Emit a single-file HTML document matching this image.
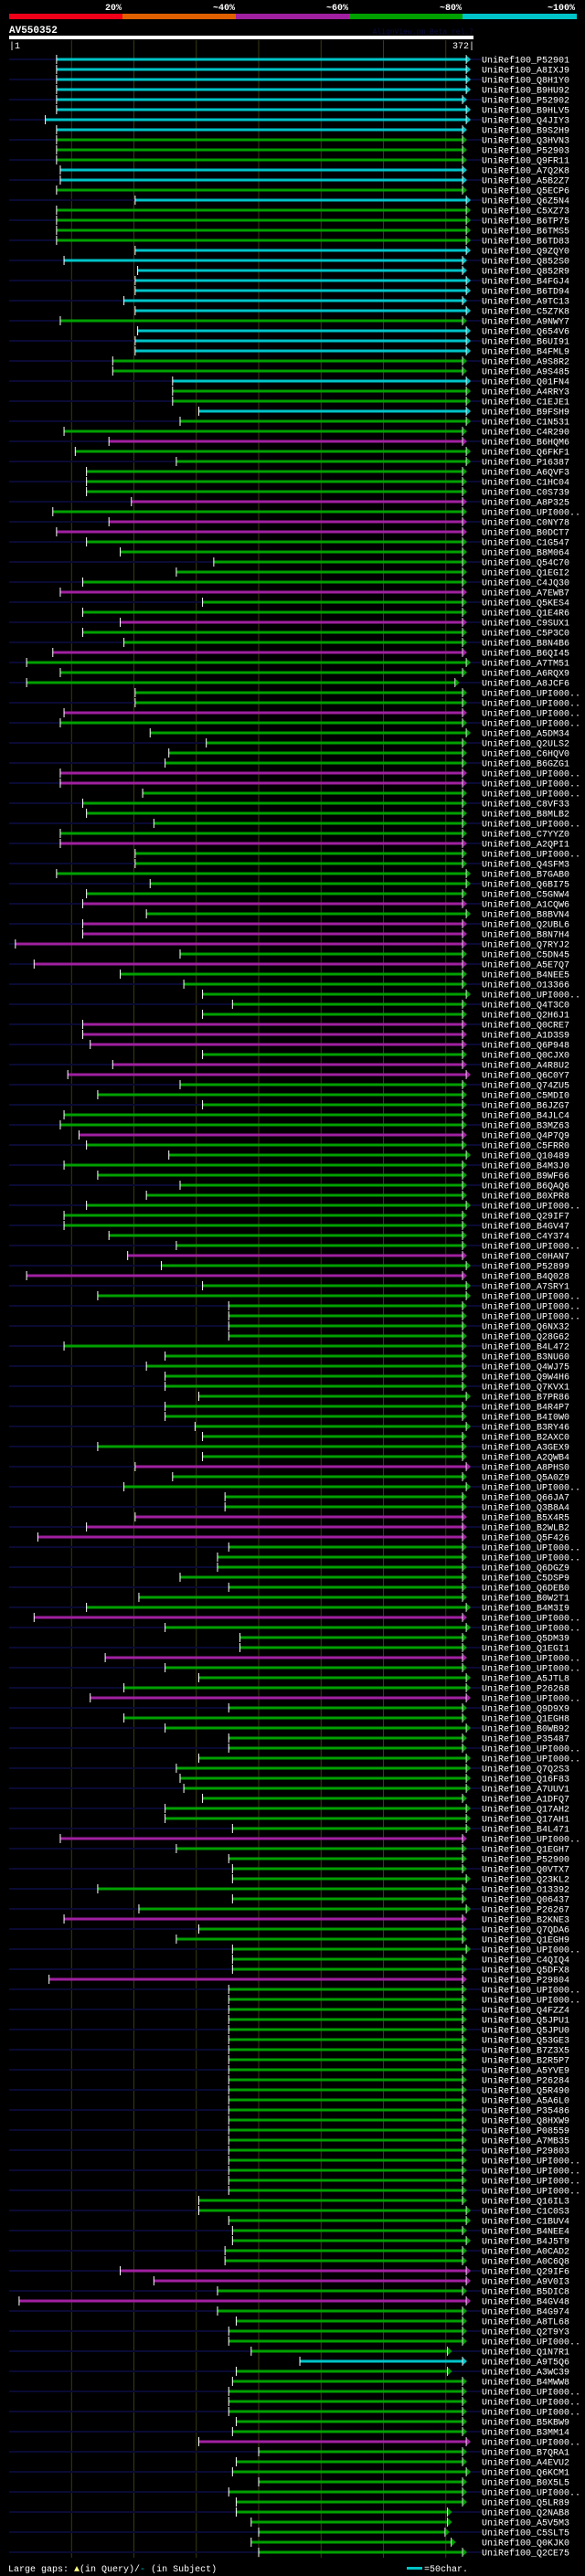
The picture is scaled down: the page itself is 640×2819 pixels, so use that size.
<!DOCTYPE html>
<html><head><meta charset="utf-8"><title>AlignView AV550352</title>
<style>
html,body{margin:0;padding:0;background:#000;}
svg{display:block;}
text{font-family:"Liberation Mono","DejaVu Sans Mono",monospace;}
</style></head>
<body>
<svg id="chart" xmlns="http://www.w3.org/2000/svg" width="640" height="2819" viewBox="0 0 640 2819">
<rect x="0" y="0" width="640" height="2819" fill="#000"/>
<g>
<rect x="10" y="15" width="124" height="6" fill="#f00018"/>
<rect x="134" y="15" width="124" height="6" fill="#e06000"/>
<rect x="258" y="15" width="124" height="6" fill="#a020a0"/>
<rect x="382" y="15" width="124" height="6" fill="#00a000"/>
<rect x="506" y="15" width="125" height="6" fill="#00c4c8"/>
<text x="133" y="11" fill="#fff" font-size="10" font-weight="bold" text-anchor="end">20%</text>
<text x="257" y="11" fill="#fff" font-size="10" font-weight="bold" text-anchor="end">~40%</text>
<text x="381" y="11" fill="#fff" font-size="10" font-weight="bold" text-anchor="end">~60%</text>
<text x="505" y="11" fill="#fff" font-size="10" font-weight="bold" text-anchor="end">~80%</text>
<text x="629" y="11" fill="#fff" font-size="10" font-weight="bold" text-anchor="end">~100%</text>
</g>
<text x="10" y="36" fill="#fff" font-size="11" font-weight="bold">AV550352</text>
<text x="518" y="37" fill="#0c0c40" font-size="8" text-anchor="end">AlignView.pm Beta rel.7</text>
<rect x="10" y="39" width="508" height="4" fill="#fff"/>
<text x="10" y="53" fill="#fff" font-size="10">|1</text>
<text x="519" y="53" fill="#fff" font-size="10" text-anchor="end">372|</text>
<g id="grid"></g>
<g id="rows"></g>
<g>
<text x="9" y="2814" fill="#fff" font-size="10">Large gaps: <tspan fill="#ffff80">▲</tspan>(in Query)/<tspan fill="#00c4c8">-</tspan> (in Subject)</text>
<rect x="445" y="2809" width="17" height="3" fill="#00c4c8"/>
<text x="464" y="2814" fill="#fff" font-size="10">=50char.</text>
</g>
</svg>
<script>
var queryLength = 372;
var gridTicks = [51, 101, 151, 201, 251, 301, 351];
var hitNames = ("P52901,A8IXJ9,Q8H1Y0,B9HU92,P52902,B9HLV5,Q4JIY3,B9S2H9,Q3HVN3,P52903,Q9FR11,A7Q2K8,A5B2Z7,Q5ECP6,Q6Z5N4,C5XZ73,B6TP75,B6TMS5,B6TD83,Q9ZQY0,Q852S0,Q852R9,B4FGJ4,B6TD94,A9TC13,C5Z7K8,A9NWY7," +
"Q654V6,B6UI91,B4FML9,A9S8R2,A9S485,Q01FN4,A4RRY3,C1EJE1,B9FSH9,C1N531,C4R290,B6HQM6,Q6FKF1,P16387,A6QVF3,C1HC04,C0S739,A8P325,U,C0NY78,B0DCT7,C1G547,B8M064,Q54C70,Q1EGI2,C4JQ30,A7EWB7,Q5KES4," +
"Q1E4R6,C9SUX1,C5P3C0,B8N4B6,B6QI45,A7TM51,A6RQX9,A8JCF6,U,U,U,U,A5DM34,Q2ULS2,C6HQV0,B6GZG1,U,U,U,C8VF33,B8MLB2,U,C7YYZ0,A2QPI1,U,Q4SFM3,B7GAB0," +
"Q6BI75,C5GNW4,A1CQW6,B8BVN4,Q2UBL6,B8N7H4,Q7RYJ2,C5DN45,A5E7Q7,B4NEE5,O13366,U,Q4T3C0,Q2H6J1,Q0CRE7,A1D3S9,Q6P948,Q0CJX0,A4R8U2,Q6C0Y7,Q74ZU5,C5MDI0,B6JZG7,B4JLC4,B3MZ63,Q4P7Q9,C5FRR0," +
"Q10489,B4M3J0,B9WF66,B6QAQ6,B0XPR8,U,Q29IF7,B4GV47,C4Y374,U,C0HAN7,P52899,B4Q028,A7SRY1,U,U,U,Q6NX32,Q28G62,B4L472,B3NU60,Q4WJ75,Q9W4H6,Q7KVX1,B7PR86,B4R4P7,B4I0W0," +
"B3RY46,B2AXC0,A3GEX9,A2QWB4,A8PHS0,Q5A0Z9,U,Q66JA7,Q3B8A4,B5X4R5,B2WLB2,Q5F426,U,U,Q6DGZ9,C5DSP9,Q6DEB0,B0W2T1,B4M3I9,U,U,Q5DM39,Q1EGI1,U,U,A5JTL8,P26268,U," +
"Q9D9X9,Q1EGH8,B0WB92,P35487,U,U,Q7Q2S3,Q16F83,A7UUV1,A1DFQ7,Q17AH2,Q17AH1,B4L471,U,Q1EGH7,P52900,Q0VTX7,Q23KL2,O13392,Q06437,P26267,B2KNE3,Q7QDA6,Q1EGH9,U,C4QIQ4,Q5DFX8," +
"P29804,U,U,Q4FZZ4,Q5JPU1,Q5JPU0,Q53GE3,B7Z3X5,B2R5P7,A5YVE9,P26284,Q5R490,A5A6L0,P35486,Q8HXW9,P08559,A7MB35,P29803,U,U,U,U," +
"Q16IL3,C1C0S3,C1BUV4,B4NEE4,B4J5T9," +
"A0CAD2,A0C6Q8,Q29IF6,A9V0I3,B5DIC8,B4GV48,B4G974,A8TL68,Q2T9Y3,U,Q1N7R1,A9T5Q6,A3WC39,B4MWW8,U,U,U,B5KBW9,B3MM14,U,B7QRA1,A4EVU2,Q6KCM1,B0X5L5,U,Q5LR89," +
"Q2NAB8,A5V5M3,C5SLT5,Q0KJK0,Q2CE75").split(",");
var identityClass = ("ccccccccgggccgcggggcccccccg" +
"cccggcggcggmgggggmgmmgggggmg" +
"gmggmgggggmgggggmmgggggmggg" +
"ggmgmmmgmgggggmmmgmmgggggmg" +
"ggggggggggmgmgggggggggggggg" +
"ggggmggggmmmgggggggmgggmgggm" +
"gggggggggggggmgggggggmggggg" +
"m" + "gggggggggggggggggggggggggg" +
"ggmmgmgggggcgggggggmgggggg" +
"ggggg").split("");
var queryStart = [39,39,39,39,39,39,30,39,39,39,39,42,42,39,102,39,39,39,39,102,45,104,102,102,93,102,42,
104,102,102,84,84,132,132,132,153,138,45,81,54,135,63,63,63,99,36,81,39,63,90,165,135,60,42,156,
60,90,60,93,36,15,42,15,102,102,45,42,114,159,129,126,42,42,108,60,63,117,42,42,102,102,39,
114,63,60,111,60,60,6,138,21,90,141,156,180,156,60,60,66,156,84,48,138,72,156,45,42,57,63,
129,45,72,138,111,63,45,45,81,135,96,123,15,156,72,177,177,177,177,45,126,111,126,126,153,126,126,
150,156,72,156,102,132,93,174,174,102,63,24,177,168,168,138,177,105,63,21,126,186,186,78,126,153,93,66,
177,93,126,177,177,153,135,138,141,156,126,126,180,42,135,177,180,180,72,180,105,45,153,135,180,180,180,
33,177,177,177,177,177,177,177,177,177,177,177,177,177,177,177,177,177,177,177,177,177,
153,153,177,180,180,
174,174,90,117,168,9,168,183,177,177,195,234,183,180,177,177,177,183,180,153,201,183,180,201,177,183,
183,195,201,195,201];
var queryEnd = [371,371,371,371,368,371,371,368,368,368,368,368,368,368,371,371,371,371,371,371,368,368,371,371,368,371,368,
371,371,371,368,368,371,371,371,371,371,368,368,371,371,368,368,368,368,368,368,368,368,368,368,368,368,368,368,
368,368,368,368,368,371,368,362,368,368,368,368,371,368,368,368,368,368,368,368,368,368,368,368,368,368,371,
371,368,368,371,368,368,368,368,368,368,368,371,368,368,368,368,368,368,368,371,368,368,368,368,368,368,368,
371,368,368,368,368,371,368,368,368,368,368,371,368,371,371,368,368,368,368,368,368,368,368,368,371,368,368,
371,368,368,368,371,368,371,368,368,368,368,368,368,368,368,368,368,368,371,368,371,368,368,368,368,371,371,371,
368,368,371,368,368,371,371,371,371,368,371,371,371,368,368,368,368,371,368,368,371,368,368,368,371,368,368,
368,368,368,368,368,368,368,368,368,368,368,368,368,368,368,368,368,368,368,368,368,368,
368,371,371,368,371,
368,368,371,371,368,371,368,368,368,368,356,368,356,368,368,368,368,368,368,371,368,368,371,368,368,368,
356,356,354,359,368];

var NS = "http://www.w3.org/2000/svg";
var X0 = 10, PX = 1.365, ROW0 = 65, PITCH = 11;
var COLORS = {c: "#00c4c8", g: "#00a000", m: "#a020a0"};
function xScale(pos) { return X0 + (pos - 1) * PX; }
function yScale(i) { return ROW0 + i * PITCH; }
function mk(tag, attrs) {
  var e = document.createElementNS(NS, tag);
  for (var k in attrs) e.setAttribute(k, attrs[k]);
  return e;
}
var grid = document.getElementById("grid");
var lastY = yScale(hitNames.length - 1) + 6;
gridTicks.forEach(function (t) {
  var l = mk("line", {x1: xScale(t), x2: xScale(t), y1: 44, y2: lastY, stroke: "#3a3a12", "stroke-width": 1});
  
  
  grid.appendChild(l);
});
var rows = document.getElementById("rows");
for (var i = 0; i < hitNames.length; i++) {
  var y = yScale(i);
  var g = mk("g", {});
  
  
  if (i % 2 === 0) {
    var s = mk("rect", {x: 10, y: y - 1, width: 517, height: 2, fill: "#0a0a34"});
    
    
    g.appendChild(s);
  }
  var col = COLORS[identityClass[i]] || COLORS.g;
  var xs = xScale(queryStart[i]), xe = xScale(queryEnd[i]);
  var bar = mk("rect", {x: xs, y: y - 1.5, width: Math.max(0, xe - 5 - xs), height: 3, fill: col});
  
  
  g.appendChild(bar);
  var tri = mk("polygon", {points: (xe - 5) + "," + (y - 4.5) + " " + xe + "," + y + " " + (xe - 5) + "," + (y + 4.5), fill: col});
  
  
  g.appendChild(tri);
  var edge = mk("line", {x1: xe - 5, x2: xe - 5, y1: y - 5, y2: y + 5, stroke: "#fff", "stroke-width": 0.8});
  
  
  g.appendChild(edge);
  var tick = mk("line", {x1: xs, x2: xs, y1: y - 5, y2: y + 5, stroke: "#fff", "stroke-width": 1});
  
  
  g.appendChild(tick);
  var nm = hitNames[i] === "U" ? "UPI000.." : hitNames[i];
  var t = mk("text", {x: 527, y: y + 3.5, fill: "#fff", "font-size": 10});
  t.textContent = "UniRef100_" + nm;
  
  
  g.appendChild(t);
  rows.appendChild(g);
}
</script>
</body></html>
